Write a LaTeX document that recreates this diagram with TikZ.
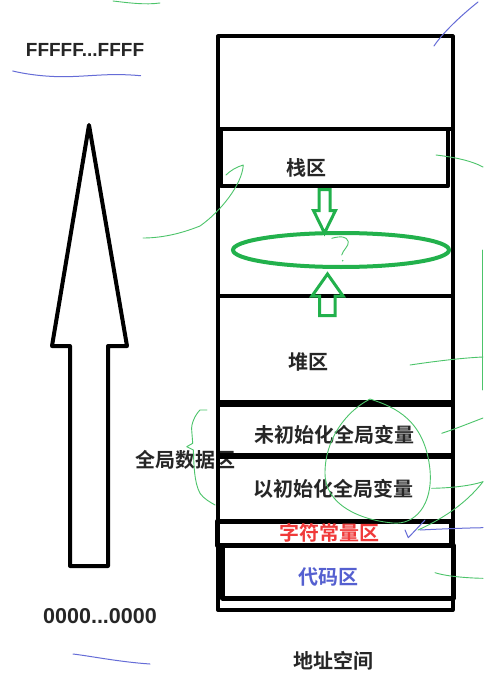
\documentclass[tikz,border=0pt]{standalone}
\usepackage{fontspec}
\setmainfont{Liberation Sans}
\newfontfamily\cjk{Noto Sans CJK SC Bold}
\definecolor{txt}{HTML}{262626}
\definecolor{pgreen}{HTML}{22B14C}
\definecolor{lgreen}{HTML}{4CC46A}
\definecolor{pblue}{HTML}{4A52D0}
\definecolor{pred}{HTML}{F03A3A}
\definecolor{cblue}{HTML}{5560D0}
\begin{document}
\begin{tikzpicture}[x=1pt,y=-1pt,
  lbl/.style={inner sep=0pt,text=txt,font=\cjk\fontsize{20}{20}\selectfont},
  blk/.style={line width=4pt,draw=black,line join=round},
  garrow/.style={line width=3pt,draw=pgreen,line join=miter},
  scrg/.style={line width=0.9pt,draw=lgreen,line cap=round,line join=round},
  scrb/.style={line width=1pt,draw=pblue!85,line cap=round,line join=round}]
\useasboundingbox (0,0) rectangle (483,679);
\fill[white] (0,0) rectangle (483,679);
% labels that lie below lines
\node[lbl] (gdata) at (185,460) {全局数据区};
% memory column
\draw[blk] (218,36.5) rectangle (452.5,610);
\draw[blk] (218,129) -- (452.5,129);
\draw[blk] (221,129) rectangle (448,186);
\draw[blk] (218,296) -- (452.5,296);
\draw[blk,line width=7pt] (218,403) -- (452.5,403);
\draw[blk,line width=6pt] (218,455.5) -- (452.5,455.5);
\draw[blk,line width=5pt] (217,521.5) rectangle (451,545);
\draw[blk,line width=5pt] (222.5,545) rectangle (453,598);
% region labels
\node[lbl] (stack) at (306.5,167.5) {栈区};
\node[lbl] (heap) at (308,361.5) {堆区};
\node[lbl] (bss) at (334,435) {未初始化全局变量};
\node[lbl] (data) at (333,489) {以初始化全局变量};
\node[lbl,text=pred] (rodata) at (329.5,533) {字符常量区};
\node[lbl,text=cblue] (code) at (328,577) {代码区};
\node[lbl] (addr) at (333,661) {地址空间};
\node[inner sep=0pt,text=txt,font=\bfseries\fontsize{19}{19}\selectfont] (hi) at (85,49.5) {FFFFF...FFFF};
\node[inner sep=0pt,text=txt,font=\bfseries\fontsize{21.5}{21.5}\selectfont] (lo) at (100,616) {0000...0000};
% big hollow arrow
\draw[blk] (89,125) -- (127,346) -- (108,346) -- (108,566) -- (70,566) -- (70,346) -- (52,346) -- cycle;
% green growth marks
\draw[garrow] (319,189.5) -- (330,189.5) -- (330,210.5) -- (335.5,210.5) -- (324.5,233) -- (313.5,210.5) -- (319,210.5) -- cycle;
\draw[garrow] (327.5,274) -- (343,296) -- (335,296) -- (335,315.5) -- (319.5,315.5) -- (319.5,296) -- (312,296) -- cycle;
\draw[line width=4pt,draw=pgreen] (341,250) ellipse [x radius=108,y radius=17];
\draw[scrg] (331.7,238.3) .. controls (340,236) and (347,236) .. (348.3,241.7) .. controls (349,246) and (343,250) .. (341.7,255);
\fill[lgreen] (342.7,260.7) circle (0.8);
% hand-drawn scribbles
\draw[scrg] (113,1) .. controls (130,3) and (145,5) .. (160,3);
\draw[scrb] (434,46) .. controls (442,34) and (458,18) .. (478,2);
\draw[scrb] (12.7,71) .. controls (25,74) and (45,77) .. (67,76.7) .. controls (95,76) and (110,73) .. (140.7,75.7);
\draw[scrb] (73,654) .. controls (90,656) and (120,662) .. (150,664);
\draw[scrg] (143,238) .. controls (165,238) and (185,232) .. (200,226) .. controls (220,212) and (242,185) .. (243.3,165) .. controls (236,167) and (230,171) .. (226,175);
\draw[scrg] (436,155) .. controls (452,157) and (470,160) .. (483,167);
\draw[scrg] (482,250) -- (482,390);
\draw[scrg] (410,365) .. controls (430,362) and (460,358) .. (483,357);
\draw[scrg] (441.7,433.3) .. controls (455,429) and (470,423) .. (483,418);
\draw[scrg] (370,399) .. controls (395,407) and (425,420) .. (430,470) .. controls (433,505) and (415,525) .. (393,523) .. controls (360,520) and (325,505) .. (325,473) .. controls (325,440) and (345,412) .. (370,399);
\draw[scrg] (431.7,488.3) .. controls (450,488) and (470,486) .. (483,481.7);
\draw[scrg] (418,530) .. controls (440,520) and (465,505) .. (483,481.7);
\draw[scrb] (405,530) -- (408.3,537.7) -- (425,520);
\draw[scrb] (420,530) .. controls (440,529) and (465,528) .. (483,527.7);
\draw[scrg] (435,572.7) .. controls (445,576) and (465,578) .. (483,578.3);
\draw[scrg] (207,410) -- (200,410) .. controls (195,415) and (191,424) .. (191.7,430) -- (192.7,443.3) -- (186.7,446.7) -- (193.3,450) .. controls (194,465) and (194,482) .. (200,493.3) .. controls (204,499) and (210,502) .. (215,505);
\end{tikzpicture}
\end{document}
